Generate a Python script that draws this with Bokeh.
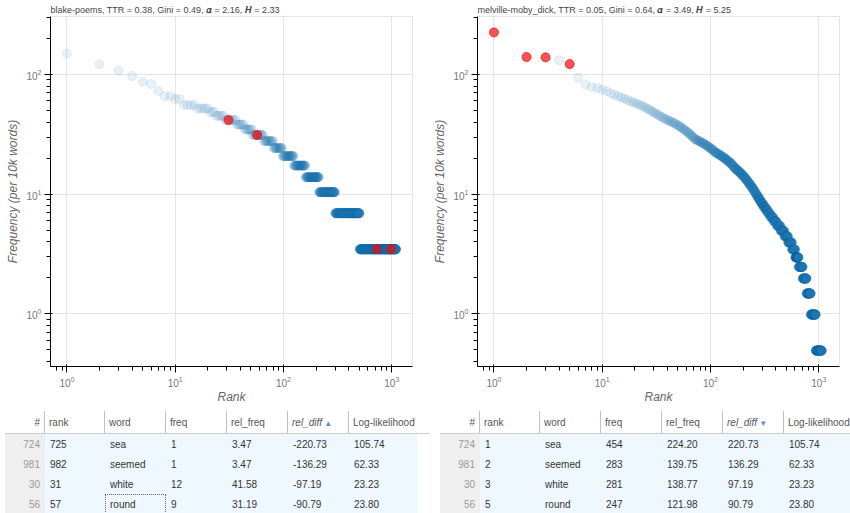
import numpy as np
from bokeh.plotting import figure
from bokeh.models import (ColumnDataSource, DataTable, TableColumn, NumberFormatter,
                          StringFormatter, InlineStyleSheet, DataRange1d)
from bokeh.layouts import column, row
from bokeh.embed import file_html
from bokeh.resources import INLINE

# ---------------- data ----------------
# blake-poems: word counts of the top ranks, then the frequency spectrum (count -> number of words)
blake_title = "blake-poems, TTR = 0.38, Gini = 0.49, \U0001D736 = 2.16, \U0001D46F = 2.33"
blake_total_words = 2886
blake_top_counts = [43, 35, 31, 28, 25, 24, 21, 19, 19, 18, 18, 16, 16, 16, 16,
                    15, 15, 15, 15, 15, 14, 14, 14, 13, 13, 13, 13, 13]
blake_spec_counts = [12, 11, 10, 9, 8, 7, 6, 5, 4, 3, 2, 1]
blake_spec_words = [8, 7, 8, 14, 15, 17, 27, 35, 53, 87, 205, 591]

# melville-moby_dick
moby_title = "melville-moby_dick, TTR = 0.05, Gini = 0.64, \U0001D736 = 3.49, \U0001D46F = 5.25"
moby_total_words = 20250
moby_top_counts = [454, 283, 281, 266, 247, 190, 167, 159, 156, 151, 146, 141, 137, 133,
                   130, 127, 124, 121, 119, 117, 115, 113, 111, 109, 107, 105, 103, 101,
                   99, 98, 96, 94, 93, 91, 90, 89, 87, 86]
moby_spec_counts = [85, 84, 83, 82, 81, 80, 79, 78, 77, 76, 75, 74, 73, 72, 71, 70, 69, 68,
                    67, 66, 65, 64, 63, 62, 61, 60, 59, 58, 57, 56, 55, 54, 53, 52, 51, 50,
                    49, 48, 47, 46, 45, 44, 43, 42, 41, 40, 39, 38, 37, 36, 35, 34, 33, 32,
                    31, 30, 29, 28, 27, 26, 25, 24, 23, 22, 21, 20, 19, 18, 17, 16, 15, 14,
                    13, 12, 11, 10, 9, 8, 7, 6, 5, 4, 3, 2, 1]
moby_spec_words = [1, 2, 1, 1, 1, 1, 2, 1, 1, 1, 1, 2, 1, 1, 1, 1, 2, 1,
                   1, 1, 2, 1, 1, 1, 2, 1, 1, 3, 3, 3, 3, 3, 3, 3, 3, 3,
                   3, 3, 3, 2, 5, 5, 5, 5, 5, 5, 5, 5, 5, 5, 4, 4, 7, 7,
                   7, 7, 7, 7, 7, 7, 7, 8, 8, 8, 8, 9, 10, 11, 13, 15, 17, 20,
                   24, 28, 34, 38, 39, 45, 40, 47, 58, 62, 71, 95, 130]

# tables (selected words)
tbl_index = [724, 981, 30, 56]
tbl_word = ["sea", "seemed", "white", "round"]
tbl_loglik = [105.74, 62.33, 23.23, 23.80]
blake_rank = [725, 982, 31, 57]
blake_freq = [1, 1, 12, 9]
blake_rel_freq = [3.47, 3.47, 41.58, 31.19]
blake_rel_diff = [-220.73, -136.29, -97.19, -90.79]
moby_rank = [1, 2, 3, 5]
moby_freq = [454, 283, 281, 247]
moby_rel_freq = [224.20, 139.75, 138.77, 121.98]
moby_rel_diff = [220.73, 136.29, 97.19, 90.79]


def expand(top, spec_counts, spec_words, total):
    counts = np.concatenate([np.array(top), np.repeat(spec_counts, spec_words)])
    ranks = np.arange(1, len(counts) + 1)
    return ColumnDataSource(dict(rank=ranks, rel_freq=counts * 10000.0 / total))


BLUE = "#1f77b4"
xr = DataRange1d()
yr = DataRange1d()


def make_fig(title, src, sel_x, sel_y, left, right):
    p = figure(width=425, height=406, x_axis_type="log", y_axis_type="log",
               x_range=xr, y_range=yr, title=title, output_backend="svg",
               toolbar_location=None, min_border_left=left, min_border_right=right,
               min_border_top=16, min_border_bottom=36)
    p.title.text_font_size = "9px"
    p.title.text_font_style = "normal"
    p.title.text_color = "#444444"
    p.title.vertical_align = "top"
    p.title.standoff = 0
    p.scatter("rank", "rel_freq", source=src, size=9, color=BLUE, alpha=0.1)
    p.scatter(sel_x, sel_y, size=9, color="red", alpha=0.65)
    p.xaxis.axis_label = "Rank"
    p.yaxis.axis_label = "Frequency (per 10k words)"
    for ax in (p.xaxis[0], p.yaxis[0]):
        ax.axis_label_text_font_size = "12px"
        ax.axis_label_text_color = "#666666"
        ax.axis_label_standoff = 0
        ax.major_label_standoff = 3
        ax.major_label_text_font_size = "10px"
        ax.major_label_text_color = "#777777"
    p.yaxis.axis_label_standoff = 3
    return p


p1 = make_fig(blake_title, expand(blake_top_counts, blake_spec_counts, blake_spec_words,
                                   blake_total_words), blake_rank, blake_rel_freq, 50, 13)
p2 = make_fig(moby_title, expand(moby_top_counts, moby_spec_counts, moby_spec_words,
                                  moby_total_words), moby_rank, moby_rel_freq, 52, 11)

css_common = """
.slick-header-column {
  height: 15px !important; line-height: 15px !important;
  padding-top: 4px !important; padding-bottom: 3px !important;
  font-size: 10px !important; color: #555 !important; font-weight: normal !important;
}
.slick-cell { font-size: 10px !important; color: #333 !important; line-height: 18px !important; }
.slick-header-column:nth-child(1) .slick-column-name {
  display: block !important; width: 100% !important; text-align: right !important; }
.slick-header-column:nth-child(1) { text-align: right !important; }
.slick-cell.l0 { background-color: #efefef !important; color: #999 !important;
                 text-align: right !important; }
.slick-header-column:nth-child(6) .slick-column-name { font-style: italic; }
"""
css_left = css_common + """
.slick-header-column:nth-child(6) .slick-column-name::after { content: " \\25B2"; color: #5b8fd6; font-style: normal; font-size: 8px; }
.slick-row:nth-child(4) .slick-cell.l2 { outline: 1px dotted #666; outline-offset: -1px; }
"""
css_right = css_common + """
.slick-header-column:nth-child(6) .slick-column-name::after { content: " \\25BC"; color: #5b8fd6; font-style: normal; font-size: 8px; }
"""


def make_table(rank, freq, rel_freq, rel_diff, css):
    src = ColumnDataSource(dict(idx=tbl_index, rank=rank, word=tbl_word, freq=freq,
                                rel_freq=rel_freq, rel_diff=rel_diff, ll=tbl_loglik))
    src.selected.indices = [0, 1, 2, 3]
    f2 = NumberFormatter(format="0.00")
    cols = [TableColumn(field="idx", title="#", width=40, sortable=False,
                        formatter=StringFormatter(text_align="right")),
            TableColumn(field="rank", title="rank", width=60),
            TableColumn(field="word", title="word", width=61),
            TableColumn(field="freq", title="freq", width=61),
            TableColumn(field="rel_freq", title="rel_freq", width=61, formatter=f2),
            TableColumn(field="rel_diff", title="rel_diff", width=61, formatter=f2),
            TableColumn(field="ll", title="Log-likelihood", width=68, formatter=f2)]
    return DataTable(source=src, columns=cols, width=425, height=107, row_height=20,
                     index_position=None, autosize_mode="none",
                     stylesheets=[InlineStyleSheet(css=css)])


t1 = make_table(blake_rank, blake_freq, blake_rel_freq, blake_rel_diff, css_left)
t2 = make_table(moby_rank, moby_freq, moby_rel_freq, moby_rel_diff, css_right)

layout = column(row(p1, p2), row(t1, t2))
open("out.html", "w").write(file_html(layout, INLINE))
